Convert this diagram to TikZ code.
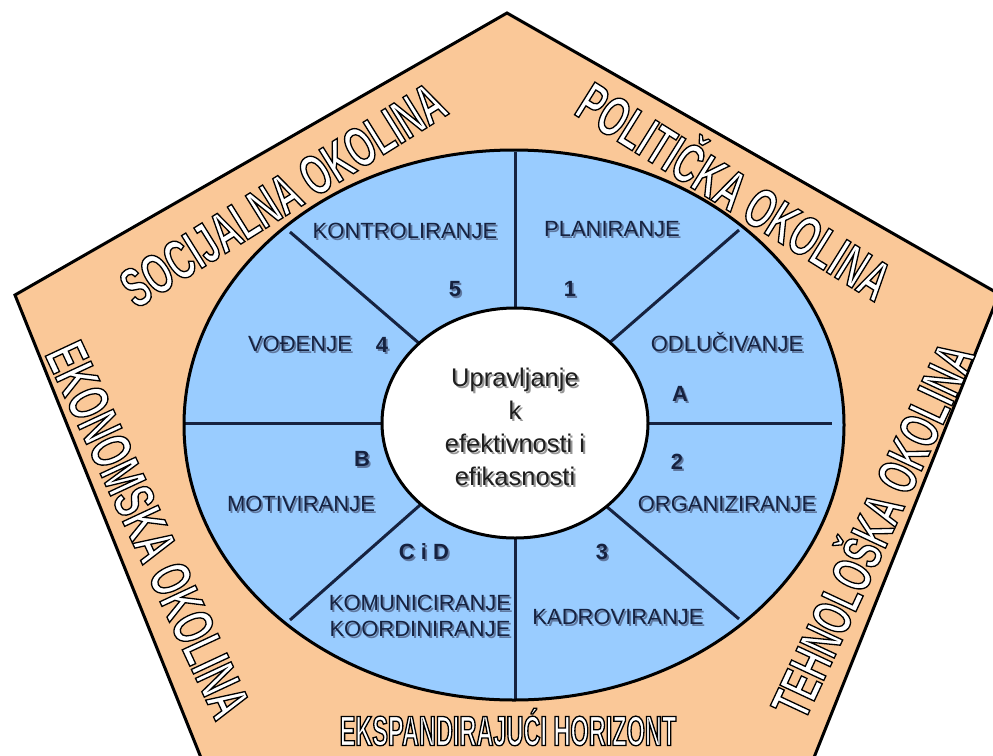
\documentclass[tikz,border=0pt]{standalone}
\usepackage{fontspec}
\setmainfont{Liberation Sans}
\newfontfamily\bandfont[FakeStretch=0.62]{Liberation Sans}
\newfontfamily\bandfontb[FakeStretch=0.56]{Liberation Sans}
\definecolor{peach}{RGB}{250,200,152}
\definecolor{skyb}{RGB}{153,204,255}
\definecolor{navy}{RGB}{22,34,64}
\definecolor{lblshadow}{RGB}{95,120,160}
\definecolor{ctrshadow}{RGB}{150,150,150}
\definecolor{ctrtext}{RGB}{30,30,30}
\newcommand\shl[1]{\leavevmode\rlap{\kern1.8pt\raisebox{-1.8pt}{\textcolor{lblshadow}{#1}}}#1}
\newcommand\shc[1]{\leavevmode\rlap{\kern2pt\raisebox{-2pt}{\textcolor{ctrshadow}{#1}}}#1}
\newcommand\outl[1]{\special{pdf:literal direct 2 Tr 1.3 w 0 0 0 RG}#1\special{pdf:literal direct 0 Tr}}
\begin{document}
\begin{tikzpicture}[x=1pt,y=-1pt,
  lbl/.style={inner sep=0pt, text=navy, font=\fontsize{22}{26}\selectfont, align=center},
  num/.style={inner sep=0pt, text=navy, font=\bfseries\fontsize{22}{26}\selectfont},
  bandtxt/.style={inner sep=0pt, text=white},
  divider/.style={line width=3pt, draw=navy},
  rim/.style={line width=3pt, draw=black}]
\useasboundingbox (0,0) rectangle (993,755);
\begin{scope}
  \clip (0,0) rectangle (993,755);
  \draw[rim, fill=peach, line join=miter] (507,13) -- (999,294) -- (797,800) -- (218,800) -- (15,295) -- cycle;
\end{scope}
% outer ring
\fill[skyb] (514,425) ellipse [x radius=330pt, y radius=275pt];
% dividers
\draw[divider] (515,152) -- (515,330);
\draw[divider] (515,520) -- (515,700);
\draw[divider] (185,423) -- (400,423);
\draw[divider] (630,423) -- (832,423);
\draw[divider] (600,351) -- (739,230);
\draw[divider] (428,351) -- (290,232);
\draw[divider] (428,498) -- (290,620);
\draw[divider] (600,501) -- (739,619);
\draw[rim] (514,425) ellipse [x radius=330pt, y radius=275pt];
% centre
\draw[rim, fill=white] (515,423) ellipse [x radius=133pt, y radius=115pt];
\node[inner sep=0pt, align=center, text=ctrtext, font=\fontsize{25.5}{33}\selectfont] (ctr) at (515,428)
  {\shc{Upravljanje}\\\shc{k}\\\shc{efektivnosti i}\\\shc{efikasnosti}};
% labels
\node[lbl] (kon) at (405,232) {\shl{KONTROLIRANJE}};
\node[lbl] (pla) at (612,230) {\shl{PLANIRANJE}};
\node[lbl] (odl) at (727,343) {\shl{ODLUČIVANJE}};
\node[lbl] (vod) at (300,345) {\shl{VOĐENJE}};
\node[lbl] (mot) at (301,505) {\shl{MOTIVIRANJE}};
\node[lbl] (org) at (727,505) {\shl{ORGANIZIRANJE}};
\node[lbl] (kom) at (420,617) {\shl{KOMUNICIRANJE}\\\shl{KOORDINIRANJE}};
\node[lbl] (kad) at (618,618) {\shl{KADROVIRANJE}};
\node[num] (n5) at (455,290) {\shl{5}};
\node[num] (n1) at (570,290) {\shl{1}};
\node[num] (n4) at (382,346) {\shl{4}};
\node[num] (nA) at (680,395) {\shl{A}};
\node[num] (nB) at (362,460) {\shl{B}};
\node[num] (n2) at (677,463) {\shl{2}};
\node[num] (nCD) at (424,553) {\shl{C i D}};
\node[num] (n3) at (602,553) {\shl{3}};
% band texts
\node[bandtxt, font=\bandfont\bfseries\fontsize{56}{56}\selectfont, rotate=32] (soc) at (283,195) {\outl{SOCIJALNA OKOLINA}};
\node[bandtxt, font=\bandfont\bfseries\fontsize{56}{56}\selectfont, rotate=-32] (pol) at (737,187) {\outl{POLITIČKA OKOLINA}};
\node[bandtxt, font=\bandfont\bfseries\fontsize{57}{57}\selectfont, rotate=-65] (eko) at (148,530) {\outl{EKONOMSKA OKOLINA}};
\node[bandtxt, font=\bandfont\bfseries\fontsize{55}{55}\selectfont, rotate=65] (teh) at (868,528) {\outl{TEHNOLOŠKA OKOLINA}};
\node[bandtxt, font=\bandfontb\bfseries\fontsize{42}{42}\selectfont] (eks) at (508,727) {\outl{EKSPANDIRAJUĆI HORIZONT}};
\end{tikzpicture}
\end{document}
